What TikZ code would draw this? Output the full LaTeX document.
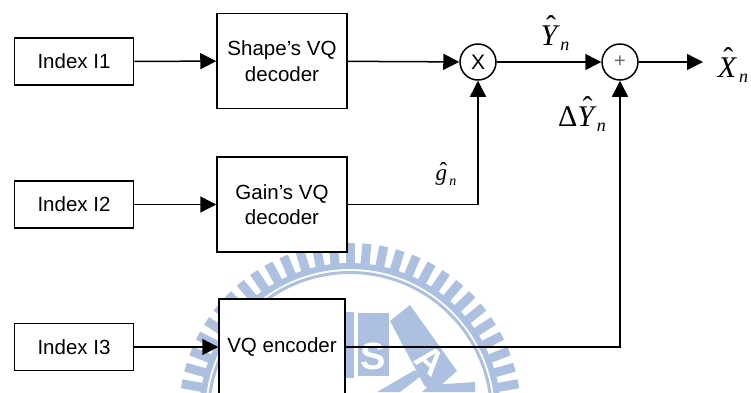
\documentclass[tikz,border=0pt]{standalone}
\usepackage{fontspec}
\setmainfont{Liberation Sans}
\newfontfamily\tms{Liberation Serif}
\usepackage{xcolor}
\usetikzlibrary{arrows.meta}
\definecolor{crest}{RGB}{172,192,226}
\newcommand{\hatsym}[4]{{\fontsize{#2}{#2}\selectfont\tms\rlap{\hspace{0.18em}\raisebox{#4}{ˆ}}\itshape #1}\raisebox{-0.5em}{\fontsize{#3}{#3}\selectfont\tms\itshape\,n}}
\tikzset{
  wire/.style={line width=1.5pt, -{Triangle[length=16pt,width=16pt]}},
  block/.style={draw, line width=1.5pt, fill=white, inner sep=0pt, align=center, font=\fontsize{20.5}{25.5}\selectfont},
  indexbox/.style={block, minimum width=119pt, minimum height=47pt},
  vqbox/.style={block, minimum width=130pt, minimum height=95pt},
  junction/.style={draw, circle, line width=1.5pt, fill=white, minimum size=36pt, inner sep=0pt},
}
\begin{document}
\begin{tikzpicture}[x=1pt, y=-1pt]
  \useasboundingbox (0,0) rectangle (751,392);
  \clip (0,0) rectangle (751,392);
  \pgfmathsetmacro{\crestx}{350}
  \pgfmathsetmacro{\cresty}{414}

  % crest behind the blocks
  \foreach \a in {-85.5,-79.8,...,90}{
    \draw[crest, line width=9pt] ({\crestx+150*sin(\a)},{\cresty-150*cos(\a)}) -- ({\crestx+171*sin(\a)},{\cresty-171*cos(\a)});
  }
  \draw[crest, line width=6pt] (\crestx,\cresty) ++(-148,0) arc[start angle=180, end angle=0, radius=148, y radius=-148];
  \draw[crest, line width=3pt] (\crestx,\cresty) ++(-141.5,0) arc[start angle=180, end angle=0, radius=141.5, y radius=-141.5];
  \fill[crest] (345,312) rectangle (354,378);
  \fill[crest] (358,313) rectangle (389,376);
  \node[text=white, font=\fontsize{38}{38}\selectfont\bfseries] at (373,356) {S};
  \fill[crest] (390,321) -- (410,305) -- (457,371) -- (433,392) -- (424,385) -- cycle;
  \node[text=white, rotate=-40, font=\fontsize{36}{36}\selectfont\bfseries] at (430,360) {A};
  \fill[crest] (377,392) -- (415,370) -- (421,376) -- (400,392) -- cycle;
  \fill[crest] (430,385) -- (475,382) -- (475,392) -- (422,392) -- cycle;

  % blocks
  \node[indexbox] (idxa) at (74,61.5) {Index I1};
  \node[indexbox] (idxb) at (74,204.5) {Index I2};
  \node[indexbox] (idxc) at (74,347) {Index I3};
  \node[vqbox] (shape) at (282,61) {Shape’s VQ\\decoder};
  \node[vqbox] (gain) at (282,204.5) {Gain’s VQ\\decoder};
  \node[vqbox, minimum width=126pt, minimum height=96pt] (enc) at (282,347) {VQ encoder};
  \node[junction, font=\fontsize{21}{21}\selectfont] (mult) at (478,62) {X};
  \node[junction, font=\fontsize{20}{20}\selectfont, text=black!60] (adder) at (620,62) {+};
  \coordinate (out) at (703,62);

  % connectors
  \draw[wire] (idxa) -- (shape);
  \draw[wire] (idxb) -- (gain);
  \draw[wire] (idxc) -- (enc);
  \draw[wire] (shape) -- (mult);
  \draw[wire] (gain) -| (mult);
  \draw[wire] (mult) -- (adder);
  \draw[wire] (enc) -| (adder);
  \draw[wire] (adder) -- (out);

  % labels
  \node (lblY) at (555,33) {\hatsym{Y}{30}{18}{0.3em}};
  \node (lblD) at (582,114) {{\fontsize{30}{30}\selectfont\tms Δ}\hatsym{Y}{30}{18}{0.3em}};
  \node (lblX) at (733,65) {\hatsym{X}{30}{18}{0.3em}};
  \node (lblg) at (446,174) {\hatsym{g}{23}{14}{0.08em}};
\end{tikzpicture}
\end{document}
